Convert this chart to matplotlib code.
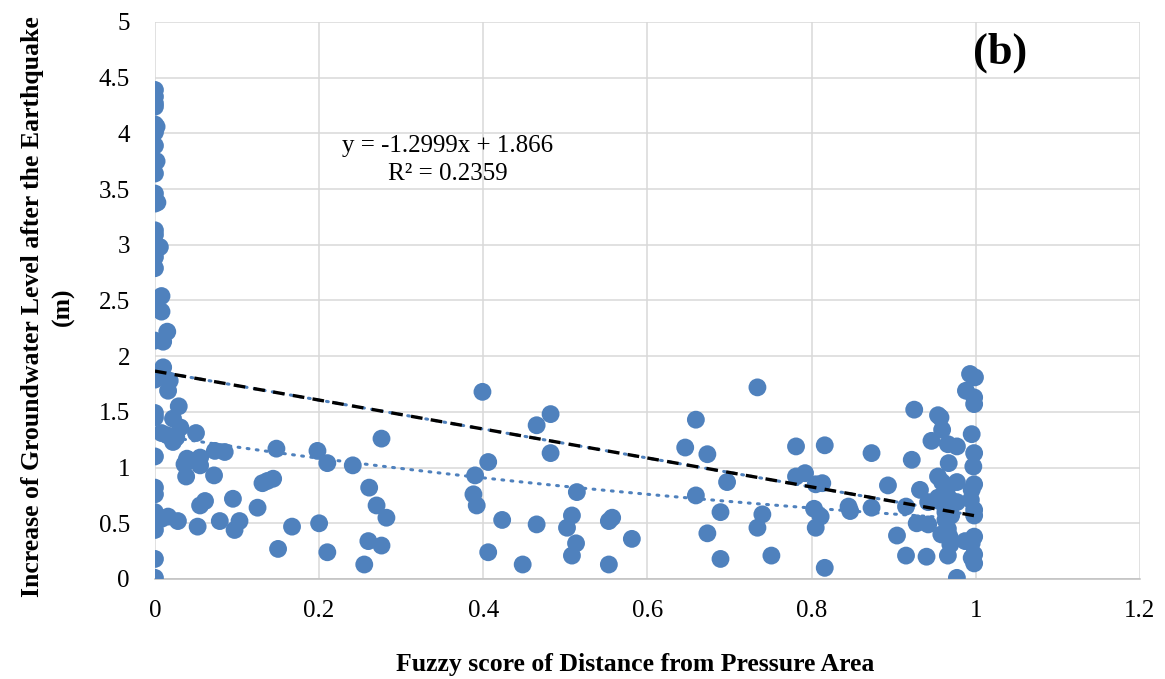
# groundwater rise vs fuzzy distance score, panel (b)
import numpy as np
import matplotlib.pyplot as plt

plt.rcParams["font.family"] = ["Liberation Serif", "DejaVu Serif"]

# points, grouped roughly left to right
x_left = [0, 0, 0, 0, 0, 0.002, 0, 0, 0.002, 0, 0, 0.003, 0, 0, 0, 0.006, 0, 0,
          0.008, 0, 0, 0.008, 0.015, 0, 0.01, 0.01, 0, 0, 0.018, 0.016, 0.029, 0, 0,
          0.022, 0.031, 0.008, 0.015, 0.022, 0.026, 0.05, 0, 0.073, 0.085, 0.148,
          0.198, 0.21, 0.241, 0.276, 0.039, 0.055, 0.036, 0.055, 0.038, 0.072, 0, 0,
          0.131, 0.137, 0.144, 0.055, 0.061, 0.095, 0.125, 0, 0.016, 0.008, 0.028,
          0.079, 0.103, 0.097, 0.052, 0, 0.167, 0.2, 0.261, 0.27, 0.282, 0.26, 0.276,
          0.15, 0.21, 0.255, 0, 0]
y_left = [4.39, 4.33, 4.27, 4.24, 4.08, 4.06, 4.01, 3.89, 3.75, 3.64, 3.46, 3.38,
          3.37, 3.13, 3.09, 2.98, 2.89, 2.79, 2.54, 2.49, 2.46, 2.40, 2.22, 2.14,
          2.13, 1.90, 1.83, 1.79, 1.78, 1.69, 1.55, 1.49, 1.45, 1.44, 1.36, 1.31,
          1.29, 1.23, 1.27, 1.31, 1.10, 1.15, 1.14, 1.17, 1.15, 1.04, 1.02, 1.26,
          1.08, 1.09, 1.03, 1.02, 0.92, 0.93, 0.82, 0.76, 0.86, 0.88, 0.90, 0.66,
          0.70, 0.72, 0.64, 0.60, 0.56, 0.54, 0.52, 0.52, 0.52, 0.44, 0.47, 0.44,
          0.47, 0.50, 0.82, 0.66, 0.55, 0.34, 0.30, 0.27, 0.24, 0.13, 0.18, 0.01]

x_mid = [0.399, 0.482, 0.465, 0.482, 0.406, 0.39, 0.388, 0.392, 0.514, 0.423,
         0.465, 0.508, 0.502, 0.557, 0.553, 0.581, 0.406, 0.513, 0.508, 0.448,
         0.553, 0.646, 0.659, 0.659]
y_mid = [1.68, 1.48, 1.38, 1.13, 1.05, 0.93, 0.76, 0.66, 0.78, 0.53, 0.49, 0.57,
         0.46, 0.55, 0.52, 0.36, 0.24, 0.32, 0.21, 0.13, 0.13, 1.18, 1.43, 0.75]

x_right = [0.673, 0.734, 0.697, 0.689, 0.673, 0.689, 0.74, 0.734, 0.751, 0.781,
           0.781, 0.792, 0.805, 0.813, 0.816, 0.803, 0.811, 0.805, 0.816, 0.845,
           0.847, 0.873, 0.873, 0.893, 0.915, 0.904, 0.915, 0.925, 0.922, 0.932,
           0.94, 0.942, 0.942, 0.946, 0.954, 0.957, 0.959, 0.954, 0.959, 0.954,
           0.966, 0.977, 0.967, 0.966, 0.977, 0.977, 0.963, 0.97, 0.963, 0.966,
           0.968, 0.969, 0.966, 0.977, 0.987, 0.993, 0.999, 0.988, 0.998, 0.998,
           0.995, 0.998, 0.997, 0.998, 0.995, 0.994, 0.998, 0.998, 0.998, 0.995,
           0.998, 0.995, 0.998, 0.955, 0.968, 0.928, 0.958]
y_right = [1.12, 1.72, 0.87, 0.60, 0.41, 0.18, 0.58, 0.46, 0.21, 1.19, 0.92, 0.95,
           0.85, 0.86, 1.20, 0.63, 0.56, 0.46, 0.10, 0.65, 0.61, 1.13, 0.64, 0.84,
           0.65, 0.39, 0.21, 1.52, 1.07, 0.80, 0.20, 0.69, 0.49, 1.24, 1.47, 1.45,
           1.34, 0.92, 0.87, 0.73, 1.21, 1.19, 1.04, 0.83, 0.87, 0.69, 0.60, 0.57,
           0.53, 0.45, 0.38, 0.31, 0.21, 0.01, 0.34, 1.84, 1.81, 1.69, 1.63, 1.57,
           1.30, 1.13, 1.01, 0.85, 0.80, 0.71, 0.62, 0.57, 0.38, 0.32, 0.22, 0.19,
           0.14, 0.70, 0.72, 0.50, 0.40]

fuzzy = np.array(x_left + x_mid + x_right)
rise = np.array(y_left + y_mid + y_right)

slope, intercept = -1.2999, 1.866
# second (dotted) trend, exponential shape
exp_a, exp_b = 1.294, -0.886

BLUE = "#4F81BD"

fig = plt.figure(figsize=(11.65, 6.79), dpi=100)
ax = fig.add_axes([0.133, 0.1473, 0.8455, 0.8203])

ax.scatter(fuzzy, rise, s=165, color=BLUE, edgecolors="none", zorder=3)

xe = np.linspace(0.035, 0.96, 100)
ax.plot(xe, exp_a * np.exp(exp_b * xe), color=BLUE, lw=2.2, ls=(0, (0.6, 2.4)),
        dash_capstyle="round", zorder=4)

xl = np.array([0.0, 1.0])
ax.plot(xl, slope * xl + intercept, color=BLUE, lw=2.2, ls=(0, (0.6, 2.4)),
        dash_capstyle="round", zorder=4)
ax.plot(xl, slope * xl + intercept, color="black", lw=2.4, ls=(0, (3.5, 2.5)), zorder=5)

ax.set_xlim(0, 1.2)
ax.set_ylim(0, 5)
ax.set_xticks(np.arange(0, 1.21, 0.2))
ax.set_xticklabels(["0", "0.2", "0.4", "0.6", "0.8", "1", "1.2"])
ax.set_yticks(np.arange(0, 5.01, 0.5))
ax.set_yticklabels(["0", "0.5", "1", "1.5", "2", "2.5", "3", "3.5", "4", "4.5", "5"])
ax.tick_params(length=0, labelsize=18)
ax.tick_params(axis="y", pad=18)
ax.tick_params(axis="x", pad=15)
ax.grid(True, color="#D9D9D9", lw=1.1)
ax.set_axisbelow(True)
for side in ["top", "right", "left"]:
    ax.spines[side].set_visible(False)
ax.spines["bottom"].set_color("#BFBFBF")
ax.spines["bottom"].set_linewidth(1.1)

ax.text(0.297, 0.752, "y = -1.2999x + 1.866\nR\u00b2 = 0.2359", transform=ax.transAxes,
        ha="center", va="center", fontsize=18, linespacing=1.35)
ax.text(0.858, 0.945, "(b)", transform=ax.transAxes, ha="center", va="center",
        fontsize=32, fontweight="bold")

fig.text(0.545, 0.022, "Fuzzy score of Distance from Pressure Area", ha="center",
         va="center", fontsize=18.5, fontweight="bold")
fig.text(0.041, 0.548, "Increase of Groundwater Level after the Earthquake\n(m)",
         rotation=90, ha="center", va="center", multialignment="center",
         fontsize=18.5, fontweight="bold", linespacing=1.45)

fig.savefig("out.png", dpi=100)
